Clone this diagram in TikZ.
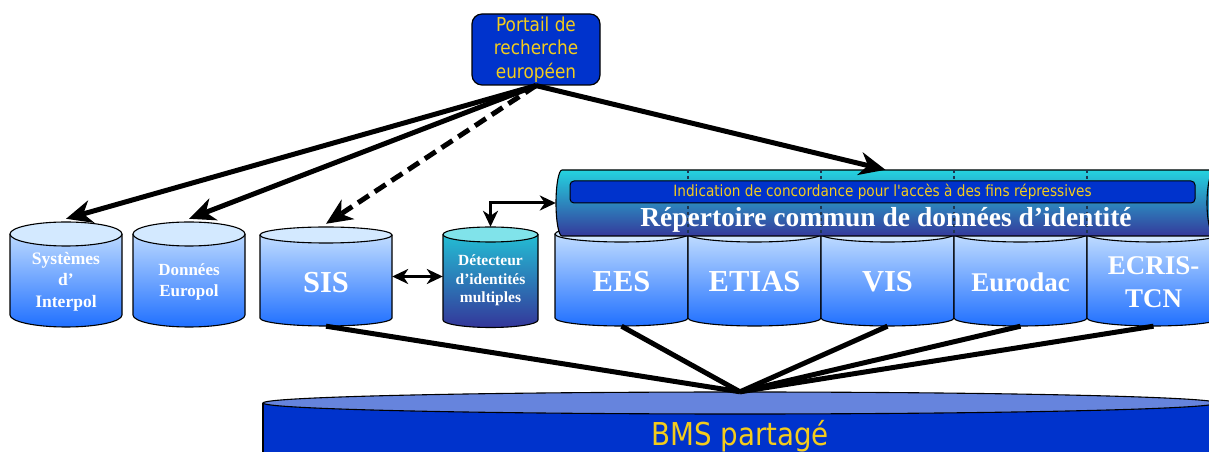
\documentclass[tikz,border=0pt]{standalone}
\usepackage{fontspec}
\setmainfont{Liberation Serif}
\newfontfamily\slidesans[FakeStretch=0.88]{DejaVu Sans}
\usepackage{tikz}
\usetikzlibrary{arrows.meta}

\definecolor{portalblue}{HTML}{0033CC}
\definecolor{hityellow}{HTML}{F4CC1C}
\definecolor{cylTop}{HTML}{CFE6FF}
\definecolor{cylBot}{HTML}{2070FF}
\definecolor{cylCap}{HTML}{D3E9FF}
\definecolor{detTop}{HTML}{22C8D8}
\definecolor{detBot}{HTML}{34369A}
\definecolor{detCap}{HTML}{80E3EA}
\definecolor{cirTop}{HTML}{24D3DF}
\definecolor{cirBot}{HTML}{35399B}
\definecolor{cirFace}{HTML}{2A8EC0}
\definecolor{bmsCap}{HTML}{6684DD}
\definecolor{sepgrey}{HTML}{1E3550}

\newcommand{\dbsize}[2]{\fontsize{#1}{#2}\selectfont}

% database cylinder: name, left x, right x, top centre, bottom centre, y radius, colour set
\newcommand{\dbcyl}[7]{%
  \shade[#7 body] (#2,#4) -- (#2,#5)
    arc[start angle=180, end angle=360, x radius={(#3-#2)/2}, y radius=#6]
    -- (#3,#4) arc[start angle=0, end angle=180, x radius={(#3-#2)/2}, y radius=#6] -- cycle;
  \draw[cylline] (#2,#4) -- (#2,#5)
    arc[start angle=180, end angle=360, x radius={(#3-#2)/2}, y radius=#6] -- (#3,#4);
  \filldraw[#7 cap, cylline] ({(#2+#3)/2},#4) ellipse[x radius={(#3-#2)/2}, y radius=#6];
  \node[inner sep=0pt, minimum width={#3-#2}, minimum height={#4-#5+2*#6}] (#1)
    at ({(#2+#3)/2},{(#4+#5)/2}) {};
}

\tikzset{
  cylline/.style={draw=black, line width=1.1pt},
  blue body/.style={top color=cylTop, bottom color=cylBot},
  blue cap/.style={fill=cylCap},
  det body/.style={top color=detTop, bottom color=detBot},
  det cap/.style={fill=detCap},
  dblabel/.style={text=white, align=center, inner sep=0pt},
  portalbox/.style={draw=black, line width=1.2pt, fill=portalblue, rounded corners=10pt,
    minimum width=128pt, minimum height=71pt, inner sep=0pt, text=hityellow, align=center,
    font=\slidesans\dbsize{19.2}{23.5}},
  hitbox/.style={draw=black, line width=1pt, fill=portalblue, rounded corners=4pt,
    minimum width=625pt, minimum height=22pt, inner sep=0pt, text=hityellow,
    font=\slidesans\dbsize{15.5}{18}},
  sepline/.style={draw=sepgrey, line width=2pt, dash pattern=on 3pt off 3pt},
  bigarrow/.style={line width=5pt, arrows={-Stealth[length=26pt, width=23pt, inset=8pt]}},
  smallarrow/.style={line width=3pt,
    arrows={Stealth[length=16pt, width=15pt, inset=5pt]-Stealth[length=16pt, width=15pt, inset=5pt]}},
  bmsline/.style={line width=5pt}
}

\begin{document}
\begin{tikzpicture}[x=1pt, y=1pt]
\useasboundingbox (0,0) rectangle (1209,452);

% portal
\node[portalbox] (portal) at (536,402.5) {Portail de\\recherche\\européen};

% databases
\dbcyl{interpol}{10}{122}{218}{137}{12}{blue}
\dbcyl{europol}{133}{245}{218}{137}{12}{blue}
\dbcyl{sis}{260}{392}{217}{134}{8}{blue}
\dbcyl{detector}{443}{538}{217.5}{132}{7.5}{det}
\dbcyl{ees}{555}{688}{218}{134}{8}{blue}
\dbcyl{etias}{688}{821}{218}{134}{8}{blue}
\dbcyl{vis}{821}{954}{218}{134}{8}{blue}
\dbcyl{eurodac}{954}{1087}{218}{134}{8}{blue}
\dbcyl{ecris}{1087}{1220}{218}{134}{8}{blue}

\node[dblabel, font=\bfseries\dbsize{17.5}{21.7}] (interpol-label) at ([yshift=-7pt]interpol) {Systèmes\\d’\\Interpol};
\node[dblabel, font=\bfseries\dbsize{17}{21}] (europol-label) at ([yshift=-7pt]europol) {Données\\Europol};
\node[dblabel, font=\bfseries\dbsize{30.5}{33}] (sis-label) at ([yshift=-6.5pt]sis) {SIS};
\node[dblabel, font=\bfseries\dbsize{15.5}{18.7}] (detector-label) at ([yshift=-3.2pt]detector) {Détecteur\\d’identités\\multiples};
\node[dblabel, font=\bfseries\dbsize{30.5}{33}] (ees-label) at ([yshift=-6pt]ees) {EES};
\node[dblabel, font=\bfseries\dbsize{30.5}{33}] (etias-label) at ([yshift=-6pt]etias) {ETIAS};
\node[dblabel, font=\bfseries\dbsize{30.5}{33}] (vis-label) at ([yshift=-6pt]vis) {VIS};
\node[dblabel, font=\bfseries\dbsize{27}{33}] (eurodac-label) at ([yshift=-6pt]eurodac) {Eurodac};
\node[dblabel, font=\bfseries\dbsize{27}{33}] (ecris-label) at ([yshift=-6.5pt]ecris) {ECRIS-\\TCN};

% common identity repository
\shade[top color=cirTop, bottom color=cirBot] (562,282) -- (1215,282)
  arc[start angle=90, end angle=-90, x radius=8, y radius=33] -- (562,216)
  arc[start angle=270, end angle=90, x radius=6, y radius=33] -- cycle;
\draw[cylline] (562,282) -- (1215,282)
  arc[start angle=90, end angle=-90, x radius=8, y radius=33] -- (562,216)
  arc[start angle=270, end angle=90, x radius=6, y radius=33] -- cycle;
\filldraw[fill=cirFace, cylline] (1215,249) ellipse[x radius=8, y radius=33];
\foreach \sx in {688,821,954,1087}
  \draw[sepline] (\sx,282) -- (\sx,216);
\node[inner sep=0pt, minimum width=659pt, minimum height=66pt] (cir) at (885.5,249) {};
\node[hitbox] (hit) at (882.5,260) {Indication de concordance pour l'accès à des fins répressives};
\node[dblabel, anchor=base, font=\bfseries\dbsize{27.5}{30}] (cir-label) at (886,225.3) {Répertoire commun de données d’identité};

% shared BMS
\fill[portalblue] (263,49) -- (263,-20) -- (1217,-20) -- (1217,49) -- cycle;
\draw[cylline] (263,-20) -- (263,49);
\filldraw[fill=bmsCap, cylline] (740,49) ellipse[x radius=477, y radius=11];
\node[inner sep=0pt, minimum width=954pt, minimum height=89.2pt, text=hityellow,
  font=\slidesans\dbsize{31.5}{34}] (bms) at (740,15.4) {BMS partagé};

% connectors
\draw[bigarrow] (portal.south) -- ([yshift=3pt]interpol.north);
\draw[bigarrow] (portal.south) -- ([yshift=3pt]europol.north);
\draw[bigarrow, dash pattern=on 13pt off 7pt] (portal.south) -- ([yshift=3pt]sis.north);
\draw[bigarrow] (portal.south) -- (cir.north);
\draw[smallarrow] (sis.east) -- (sis.east -| detector.west);
\draw[smallarrow] (detector.north) |- (cir.west);
\foreach \db in {sis,ees,vis,eurodac,ecris}
  \draw[bmsline] (\db.south) -- (bms.north);
\end{tikzpicture}
\end{document}
